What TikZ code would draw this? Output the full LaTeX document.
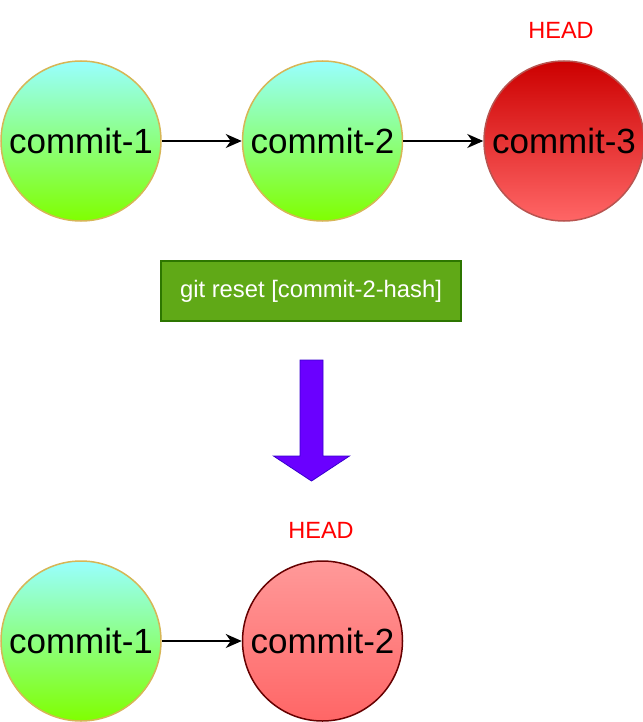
\documentclass[tikz,border=0pt]{standalone}
\usepackage{xcolor}
\usepackage{fontspec}
\usepackage{tikz}
\usetikzlibrary{positioning,arrows.meta,calc}
\setmainfont{Liberation Sans}
\definecolor{commitgreentop}{HTML}{99FFFF}
\definecolor{commitgreenbot}{HTML}{80FF00}
\definecolor{commitgreenline}{HTML}{D6B656}
\definecolor{headredtop}{HTML}{CC0000}
\definecolor{headredbot}{HTML}{FF6666}
\definecolor{headredline}{HTML}{B85450}
\definecolor{resetredtop}{HTML}{FF9999}
\definecolor{resetredbot}{HTML}{FF6666}
\definecolor{resetredline}{HTML}{660000}
\definecolor{cmdgreen}{HTML}{60A917}
\definecolor{cmdgreenline}{HTML}{2D7600}
\definecolor{arrowviolet}{HTML}{6A00FF}
\definecolor{arrowvioletline}{HTML}{3700CC}
\definecolor{headlabel}{HTML}{FF0000}

\tikzset{
  commit/.style={
    circle,
    minimum size=160pt,
    inner sep=0pt,
    line width=1.5pt,
    font=\fontsize{35}{40}\selectfont
  },
  oldcommit/.style={
    commit,
    draw=commitgreenline,
    top color=commitgreentop,
    bottom color=commitgreenbot
  },
  headcommit/.style={
    commit,
    draw=headredline,
    top color=headredtop,
    bottom color=headredbot
  },
  resetcommit/.style={
    commit,
    draw=resetredline,
    top color=resetredtop,
    bottom color=resetredbot
  },
  headtag/.style={
    text=headlabel,
    font=\fontsize{23.5}{28}\selectfont
  },
  link/.style={
    line width=1.4pt,
    -{Stealth[length=16pt,width=14pt,inset=5pt]}
  }
}

\begin{document}
\begin{tikzpicture}[x=1pt,y=-1pt,node distance=80pt]
  \useasboundingbox (0,0) rectangle (642,722);

  % before the reset
  \node[oldcommit] (c1) at (81,141) {commit-1};
  \node[oldcommit, right=of c1] (c2) {commit-2};
  \node[headcommit, right=of c2] (c3) {commit-3};
  \node[headtag] (head1) at (561,30) {HEAD};
  \draw[link] (c1) -- (c2);
  \draw[link] (c2) -- (c3);

  % the command
  \node[
    fill=cmdgreen,
    draw=cmdgreenline,
    line width=1.5pt,
    minimum width=300pt,
    minimum height=60pt,
    inner sep=0pt,
    text=white,
    font=\fontsize{23.8}{28}\selectfont
  ] (cmd) at (311,291) {git reset [commit-2-hash]};

  % big arrow
  \coordinate (down) at (311.5,360);
  \filldraw[fill=arrowviolet, draw=arrowvioletline, line width=0.8pt]
    ($(down)+(-11.5,0)$) -- ++(23,0) -- ++(0,96) -- ++(26.5,0)
    -- ($(down)+(0,121)$) -- ($(down)+(-38,96)$) -- ++(26.5,0) -- cycle;

  % after the reset
  \node[oldcommit] (r1) at (81,641) {commit-1};
  \node[resetcommit, right=of r1] (r2) {commit-2};
  \node[headtag] (head2) at (321,530) {HEAD};
  \draw[link] (r1) -- (r2);
\end{tikzpicture}
\end{document}
